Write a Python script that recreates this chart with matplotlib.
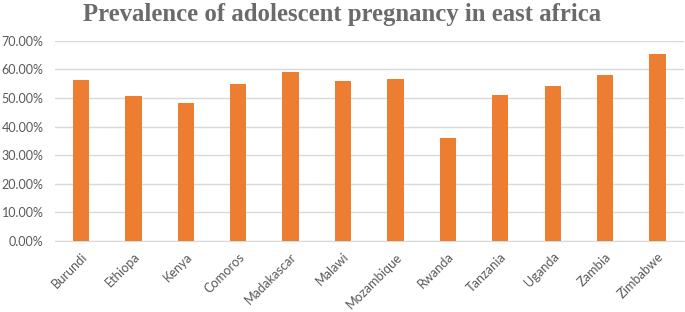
import numpy as np
import matplotlib.pyplot as plt
from matplotlib.ticker import PercentFormatter

# Data
countries = ['Burundi', 'Ethiopa', 'Kenya', 'Comoros', 'Madakascar', 'Malawi',
             'Mozambique', 'Rwanda', 'Tanzania', 'Uganda', 'Zambia', 'Zimbabwe']
prevalence = [56.4, 50.6, 48.4, 55.0, 59.2, 55.8, 56.5, 36.1, 51.0, 54.2, 58.0, 65.3]
yticks = [0, 10, 20, 30, 40, 50, 60, 70]

fig = plt.figure(figsize=(6.85, 3.12), dpi=100)
ax = fig.add_axes([0.08, 0.228, 0.918, 0.641])

x = np.arange(len(countries))
ax.bar(x, prevalence, width=0.31, color='#ED7D31', zorder=3)

ax.set_xlim(-0.5, len(countries) - 0.5)
ax.set_ylim(0, 70)
ax.set_yticks(yticks)
ax.yaxis.set_major_formatter(PercentFormatter(decimals=2))
ax.set_xticks(x)
ax.set_xticklabels(countries, rotation=45, ha='right', rotation_mode='anchor')

ax.grid(axis='y', color='#d9d9d9', lw=1, zorder=0)
for s in ['top', 'right', 'left']:
    ax.spines[s].set_visible(False)
ax.spines['bottom'].set_color('#d9d9d9')
ax.tick_params(length=0, colors='#595959')
ax.tick_params(axis='y', pad=8, labelsize=9)
ax.tick_params(axis='x', pad=7, labelsize=9.2)
for lbl in ax.get_xticklabels() + ax.get_yticklabels():
    lbl.set_family('Lato')

fig.text(0.5, 0.955, 'Prevalence of adolescent pregnancy in east africa',
         ha='center', va='center', fontsize=17.8, fontweight='bold',
         family='Liberation Serif', color='#6b6b6b')

fig.savefig('out.png')
